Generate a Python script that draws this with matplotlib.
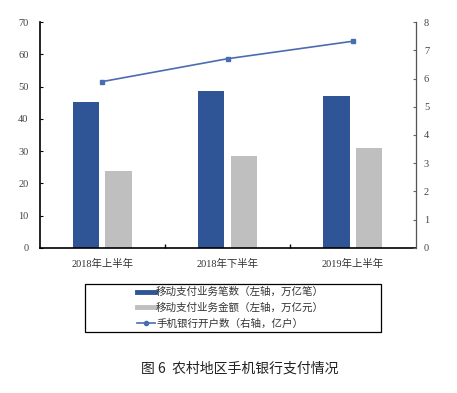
import numpy as np
import matplotlib.pyplot as plt
from matplotlib.patches import Rectangle
from matplotlib.lines import Line2D

plt.rcParams['font.family'] = ['Liberation Serif', 'Noto Sans CJK SC']

categories = ['2018年上半年', '2018年下半年', '2019年上半年']
counts = [45.3, 48.5, 47.2]      # 移动支付业务笔数 (左轴, 万亿笔)
amounts = [23.8, 28.6, 31.0]     # 移动支付业务金额 (左轴, 万亿元)
accounts = [5.89, 6.70, 7.32]    # 手机银行开户数 (右轴, 亿户)

blue = '#2f5597'
gray = '#bfbfbf'

fig = plt.figure(figsize=(4.57, 3.93), dpi=100)
ax = fig.add_axes([0.0865, 0.369, 0.823, 0.575])
ax2 = ax.twinx()

x = np.arange(len(categories))
w = 0.21
ax.bar(x - 0.13, counts, w, color=blue, zorder=2)
ax.bar(x + 0.13, amounts, w, color=gray, zorder=2)
ax2.plot(x, accounts, color='#4a6db0', lw=1.2, marker='s', ms=3.5,
         markerfacecolor='#4a6db0', zorder=3)

ax.set_xlim(-0.5, 2.5)
ax.set_ylim(0, 70)
ax.set_yticks(range(0, 71, 10))
ax2.set_ylim(0, 8)
ax2.set_yticks(range(0, 9))

ax.set_xticks([0.5, 1.5])
ax.set_xticklabels([])
ax.tick_params(axis='x', direction='in', length=3, width=1)
for xi, lab in zip(x, categories):
    ax.text(xi, -0.05, lab, transform=ax.get_xaxis_transform(),
            ha='center', va='top', fontsize=7.5, color='#333333')

ax.tick_params(axis='y', direction='in', length=2.5, labelsize=7.5,
               labelcolor='#444444', pad=8)
ax2.tick_params(axis='y', direction='in', length=2.5, labelsize=7.5,
                labelcolor='#444444', pad=6, color='#666666')

for a in (ax, ax2):
    a.spines['top'].set_visible(False)
ax.spines['left'].set_linewidth(1.2)
ax.spines['bottom'].set_linewidth(1.2)
ax2.spines['right'].set_color('#555555')
ax2.spines['left'].set_visible(False)
ax2.spines['bottom'].set_visible(False)

# legend box
fig.patches.append(Rectangle((85 / 457, 1 - 332 / 393), 296 / 457, 48 / 393,
                             transform=fig.transFigure, fill=False,
                             edgecolor='black', lw=0.9))
handles = [
    Line2D([0], [0], color=blue, lw=3.5),
    Line2D([0], [0], color=gray, lw=3.5),
    Line2D([0], [0], color='#4a6db0', lw=1.2, marker='o', ms=3),
]
labels = ['移动支付业务笔数（左轴，万亿笔）',
          '移动支付业务金额（左轴，万亿元）',
          '手机银行开户数（右轴，亿户）']
leg = fig.legend(handles, labels, loc='upper left',
                 bbox_to_anchor=(135 / 457, 1 - 285 / 393),
                 prop={'family': 'Noto Sans CJK SC', 'size': 7.6},
                 frameon=False, handlelength=1.7, handletextpad=0.1,
                 labelspacing=0.52, borderpad=0.2, borderaxespad=0)
for t in leg.get_texts():
    t.set_color('#333333')

fig.text(240 / 457, 1 - 369 / 393, '图 6  农村地区手机银行支付情况',
         ha='center', va='center', fontsize=10,
         family='Noto Sans CJK SC', color='#222222')

fig.savefig('out.png', dpi=100, facecolor='white')
